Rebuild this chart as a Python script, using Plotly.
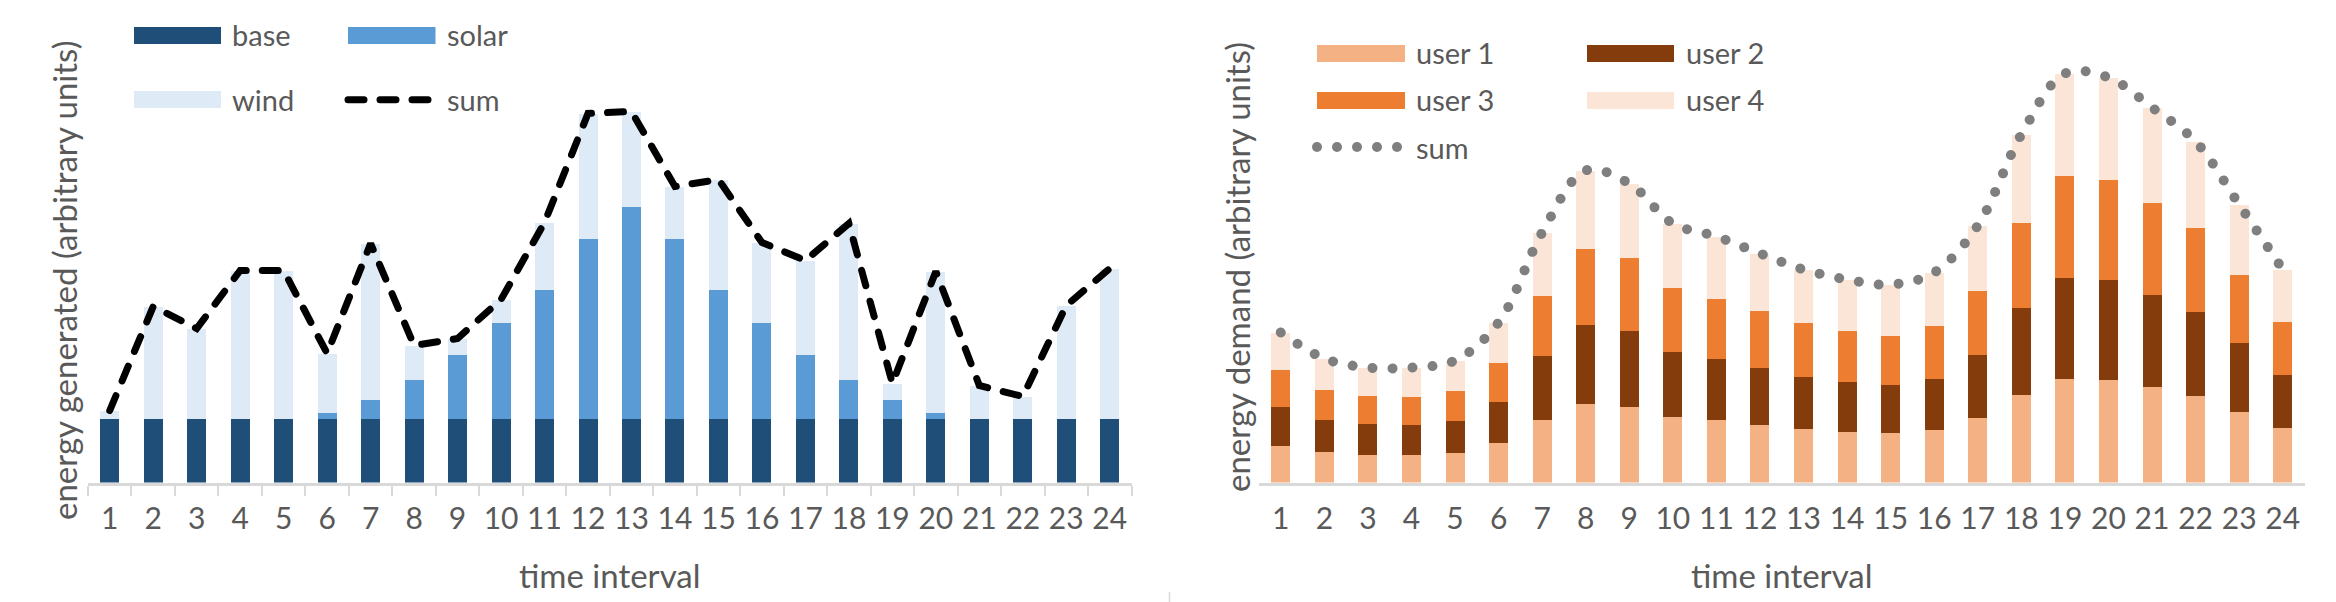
import plotly.graph_objects as go

# ---------------- data ----------------
intervals = [str(i) for i in range(1, 25)]

# left chart: energy generated (arbitrary units)
base = [6.4, 6.4, 6.4, 6.4, 6.4, 6.4, 6.4, 6.4, 6.4, 6.4, 6.4, 6.4,
        6.4, 6.4, 6.4, 6.4, 6.4, 6.4, 6.4, 6.4, 6.4, 6.4, 6.4, 6.4]
solar = [0, 0, 0, 0, 0, 0.6, 1.9, 3.9, 6.4, 9.6, 12.9, 18.0,
         21.2, 18.0, 12.9, 9.6, 6.4, 3.9, 1.9, 0.6, 0, 0, 0, 0]
wind = [0.8, 11.2, 9.0, 14.8, 14.8, 5.9, 15.6, 3.4, 1.6, 2.3, 6.7, 12.5,
        9.5, 5.2, 11.0, 8.0, 9.4, 15.6, 1.6, 14.1, 3.3, 2.2, 11.3, 15.0]

# right chart: energy demand (arbitrary units)
user1 = [3.7, 3.1, 2.8, 2.8, 3.0, 4.0, 6.3, 7.9, 7.6, 6.6, 6.3, 5.8,
         5.4, 5.1, 5.0, 5.3, 6.5, 8.8, 10.4, 10.3, 9.6, 8.7, 7.1, 5.5]
user2 = [3.9, 3.2, 3.1, 3.0, 3.2, 4.1, 6.4, 7.9, 7.6, 6.5, 6.1, 5.7,
         5.2, 5.0, 4.8, 5.1, 6.3, 8.7, 10.1, 10.0, 9.2, 8.4, 6.9, 5.3]
user3 = [3.7, 3.0, 2.8, 2.8, 3.0, 3.9, 6.0, 7.6, 7.3, 6.4, 6.0, 5.7,
         5.4, 5.1, 4.9, 5.3, 6.4, 8.5, 10.2, 10.0, 9.2, 8.4, 6.8, 5.3]
user4 = [3.7, 3.1, 2.8, 2.9, 3.0, 4.0, 6.3, 7.8, 7.4, 6.4, 6.2, 5.7,
         5.3, 5.1, 5.1, 5.3, 6.5, 8.8, 10.2, 10.2, 9.5, 8.6, 7.0, 5.2]

gen_sum = [b + s + w for b, s, w in zip(base, solar, wind)]
dem_sum = [a + b + c + d for a, b, c, d in zip(user1, user2, user3, user4)]

# ---------------- styling ----------------
W, H = 2336, 602
FONT = "Lato"
TXT = "#595959"
AX = "#d9d9d9"
BARW = 0.437
YMAX = 46.25


def px(x):
    return x / W


def py(y):
    return 1 - y / H


fig = go.Figure()

for name, vals, col in [("base", base, "#1F4E79"), ("solar", solar, "#5B9BD5"),
                        ("wind", wind, "#DEEBF7")]:
    fig.add_trace(go.Bar(x=intervals, y=vals, name=name, marker_color=col,
                         marker_line_width=0, width=BARW, xaxis="x", yaxis="y"))
fig.add_trace(go.Scatter(x=intervals, y=gen_sum, name="sum", mode="lines",
                         line=dict(color="black", width=7, dash="16px,16px"),
                         xaxis="x", yaxis="y"))

for name, vals, col in [("user 1", user1, "#F4B183"), ("user 2", user2, "#843C0C"),
                        ("user 3", user3, "#ED7D31"), ("user 4", user4, "#FBE5D6")]:
    fig.add_trace(go.Bar(x=intervals, y=vals, name=name, marker_color=col,
                         marker_line_width=0, width=BARW, xaxis="x2", yaxis="y2"))
fig.add_trace(go.Scatter(x=intervals, y=dem_sum, name="sum", mode="lines",
                         line=dict(color="#7F7F7F", width=10, dash="9px,11px",
                                   shape="spline", smoothing=1.0),
                         xaxis="x2", yaxis="y2"))

ydom = [py(482.5), py(20)]
xcommon = dict(type="category", showline=True, linecolor=AX, linewidth=3,
               ticks="outside", ticklen=10, tickwidth=2, tickson="boundaries",
               tickangle=0,
               tickfont=dict(family=FONT, size=30, color=TXT), showgrid=False,
               zeroline=False, range=[-0.5, 23.5], ticklabelstandoff=7,
               fixedrange=True)
ycommon = dict(range=[0, YMAX], showline=False, showgrid=False, zeroline=False,
               showticklabels=False, ticks="", fixedrange=True)

fig.update_layout(
    width=W, height=H, margin=dict(l=0, r=0, t=0, b=0),
    paper_bgcolor="white", plot_bgcolor="white",
    barmode="stack", showlegend=False,
    xaxis=dict(domain=[px(88), px(1131.5)], tickcolor=AX, anchor="y", **xcommon),
    yaxis=dict(domain=ydom, anchor="x", **ycommon),
    xaxis2=dict(domain=[px(1259), px(2304.5)], tickcolor="rgba(0,0,0,0)",
                anchor="y2", **xcommon),
    yaxis2=dict(domain=ydom, anchor="x2", **ycommon),
)

shapes = []
annotations = []


def rect(x0, x1, y0, y1, col):
    shapes.append(dict(type="rect", xref="paper", yref="paper",
                       x0=px(x0), x1=px(x1), y0=py(y1), y1=py(y0),
                       fillcolor=col, line=dict(width=0)))


def label(x, y, text, size=29):
    annotations.append(dict(x=px(x), y=py(y), xref="paper", yref="paper",
                            text=text, showarrow=False, xanchor="left",
                            yanchor="middle",
                            font=dict(family=FONT, size=size, color=TXT)))


# left legend
rect(134, 221, 27, 44, "#1F4E79"); label(230, 35, "base")
rect(348, 435.5, 27, 44, "#5B9BD5"); label(445, 35, "solar")
rect(134, 221, 91, 108, "#DEEBF7"); label(230, 99, "wind")
shapes.append(dict(type="line", xref="paper", yref="paper",
                   x0=px(348), x1=px(428.5), y0=py(99.7), y1=py(99.7),
                   line=dict(color="black", width=7, dash="16px,16px")))
label(445, 99, "sum")

# right legend
rect(1317, 1405, 45, 62, "#F4B183"); label(1414, 53, "user 1")
rect(1587, 1674, 45, 62, "#843C0C"); label(1684, 53, "user 2")
rect(1317, 1405, 92, 109, "#ED7D31"); label(1414, 100, "user 3")
rect(1587, 1674, 92, 109, "#FBE5D6"); label(1684, 100, "user 4")
for cx in [1317, 1337, 1357, 1377, 1397]:
    shapes.append(dict(type="circle", xref="paper", yref="paper",
                       x0=px(cx - 5), x1=px(cx + 5), y0=py(152), y1=py(142),
                       fillcolor="#7F7F7F", line=dict(width=0)))
label(1414, 147, "sum")

# axis titles
for x, y, text, ang in [(64, 281, "energy generated (arbitrary units)", -90),
                        (1236.5, 267.5, "energy demand (arbitrary units)", -90),
                        (609.7, 575, "time interval", 0),
                        (1781.7, 575, "time interval", 0)]:
    annotations.append(dict(x=px(x), y=py(y), xref="paper", yref="paper",
                            text=text, showarrow=False, textangle=ang,
                            xanchor="center", yanchor="middle",
                            font=dict(family=FONT, size=33, color=TXT)))

# small separator mark at bottom
shapes.append(dict(type="line", xref="paper", yref="paper",
                   x0=px(1169.5), x1=px(1169.5), y0=py(602), y1=py(592),
                   line=dict(color=AX, width=1.5)))

fig.update_layout(shapes=shapes, annotations=annotations)

post = """
document.body.style.margin='0';
var gd=document.getElementById('{plot_id}');
gd.querySelectorAll('path.js-line').forEach(function(p){
  p.style.strokeLinecap='round';
  var s=p.style.stroke||'';
  if(s.indexOf('127')>=0){p.style.strokeDasharray='0.01px,20px';}
});
gd.querySelectorAll('.shapelayer path').forEach(function(p){
  if((p.style.strokeDasharray||'')!=='' && (p.style.strokeDasharray||'')!=='none'){p.style.strokeLinecap='round';}
});
"""

fig.write_html("out.html", config={"displayModeBar": False}, post_script=post)
